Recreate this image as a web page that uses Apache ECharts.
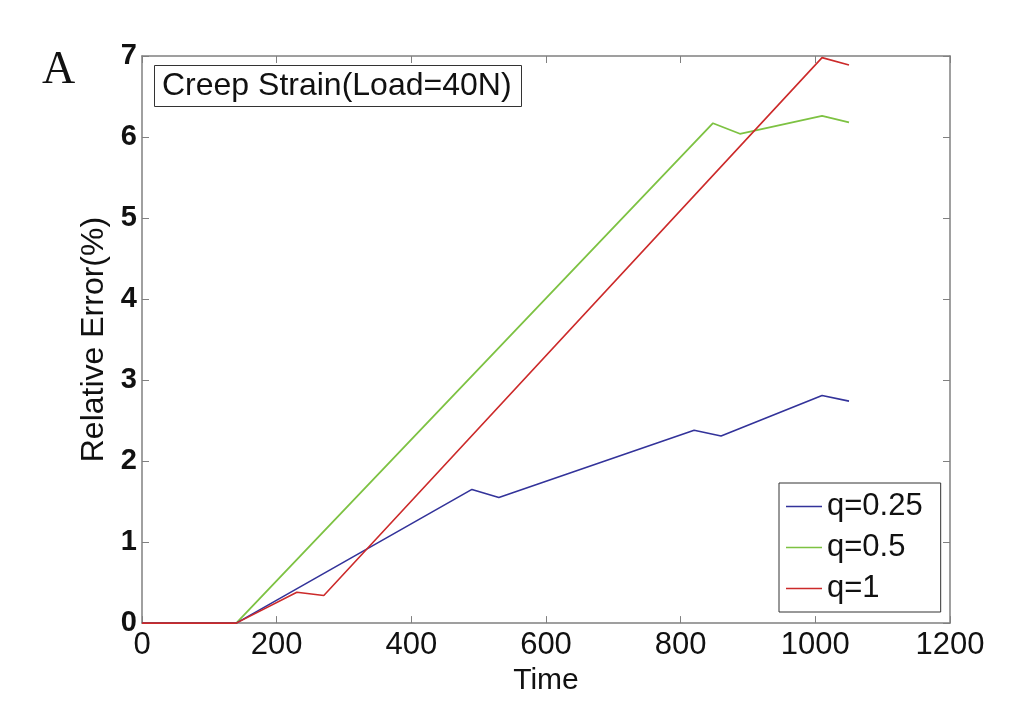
<!DOCTYPE html>
<html>
<head>
<meta charset="utf-8">
<script src="https://cdn.jsdelivr.net/npm/echarts@6/dist/echarts.min.js"></script>
<style>
html,body{margin:0;padding:0;background:#fff;}
#chart{width:1036px;height:701px;}
</style>
</head>
<body>
<div id="chart"></div>
<script>
// Data
const seriesNames = ['q=0.25', 'q=0.5', 'q=1'];
const timeQ025 = [0, 140, 490, 530, 820, 860, 1010, 1050];
const errQ025  = [0, 0, 1.65, 1.55, 2.38, 2.31, 2.81, 2.74];
const timeQ05  = [0, 140, 848, 888, 1010, 1050];
const errQ05   = [0, 0, 6.17, 6.04, 6.26, 6.18];
const timeQ1   = [0, 140, 230, 270, 1010, 1050];
const errQ1    = [0, 0, 0.38, 0.34, 6.98, 6.89];
const xTicks = [0, 200, 400, 600, 800, 1000, 1200];
const yTicks = [0, 1, 2, 3, 4, 5, 6, 7];

const pair = (xs, ys) => xs.map((x, i) => [x, ys[i]]);

const colors = ['#33339a', '#7dc242', '#cc2a2a'];
const axisGray = '#808080';
const sans = "'Liberation Sans', Arial, sans-serif";

const chart = echarts.init(document.getElementById('chart'), null, {renderer: 'canvas'});

const xMin = xTicks[0], xMax = xTicks[xTicks.length - 1];
const yMin = yTicks[0], yMax = yTicks[yTicks.length - 1];

const baseX = {
  type: 'value', min: xMin, max: xMax, interval: xTicks[1] - xTicks[0],
  splitLine: {show: false},
  axisLine: {show: true, onZero: false, lineStyle: {color: axisGray, width: 1.5}},
  axisTick: {show: true, inside: true, length: 7, lineStyle: {color: axisGray, width: 1}}
};
const baseY = {
  type: 'value', min: yMin, max: yMax, interval: yTicks[1] - yTicks[0],
  splitLine: {show: false},
  axisLine: {show: true, onZero: false, lineStyle: {color: axisGray, width: 1.5}},
  axisTick: {show: true, inside: true, length: 7, lineStyle: {color: axisGray, width: 1}}
};

const option = {
  animation: false,
  backgroundColor: '#fff',
  grid: {left: 142, right: 86, top: 56, bottom: 73, containLabel: false},
  title: {
    text: 'Creep Strain(Load=40N)',
    left: 154, top: 65,
    padding: [5, 10, 5, 8],
    borderColor: '#333', borderWidth: 1,
    textStyle: {fontFamily: sans, fontSize: 32, fontWeight: 'normal', color: '#111'}
  },
  legend: {
    data: seriesNames,
    orient: 'vertical',
    left: 779, top: 483,
    padding: [8, 18, 8, 7],
    itemGap: 10,
    icon: 'rect',
    itemWidth: 36, itemHeight: 1.6,
    borderColor: '#333', borderWidth: 1,
    backgroundColor: '#fff',
    textStyle: {fontFamily: sans, fontSize: 31, color: '#111', lineHeight: 31}
  },
  graphic: [{
    type: 'text', left: 42, top: 48,
    style: {text: 'A', fontFamily: "'Liberation Serif', 'DejaVu Serif', serif", fontSize: 46, fill: '#111'}
  }],
  xAxis: [
    Object.assign({}, baseX, {
      position: 'bottom',
      name: 'Time', nameLocation: 'middle', nameGap: 34,
      nameTextStyle: {fontFamily: sans, fontSize: 30, color: '#111'},
      axisLabel: {show: true, margin: 7, fontFamily: sans, fontSize: 31, color: '#111',
                  formatter: v => String(v)}
    }),
    Object.assign({}, baseX, {position: 'top', axisLabel: {show: false}})
  ],
  yAxis: [
    Object.assign({}, baseY, {
      position: 'left',
      name: 'Relative Error(%)', nameLocation: 'middle', nameGap: 17,
      nameTextStyle: {fontFamily: sans, fontSize: 32, color: '#111'},
      axisLabel: {show: true, margin: 5, fontFamily: sans, fontSize: 29, fontWeight: 'bold', color: '#111',
                  formatter: v => String(v)}
    }),
    Object.assign({}, baseY, {position: 'right', axisLabel: {show: false}})
  ],
  series: [
    {name: seriesNames[0], type: 'line', data: pair(timeQ025, errQ025), symbol: 'none',
     lineStyle: {color: colors[0], width: 1.6}, itemStyle: {color: colors[0]}, z: 3},
    {name: seriesNames[1], type: 'line', data: pair(timeQ05, errQ05), symbol: 'none',
     lineStyle: {color: colors[1], width: 1.8}, itemStyle: {color: colors[1]}, z: 2},
    {name: seriesNames[2], type: 'line', data: pair(timeQ1, errQ1), symbol: 'none',
     lineStyle: {color: colors[2], width: 1.6}, itemStyle: {color: colors[2]}, z: 4}
  ]
};
chart.setOption(option);
</script>
</body>
</html>
